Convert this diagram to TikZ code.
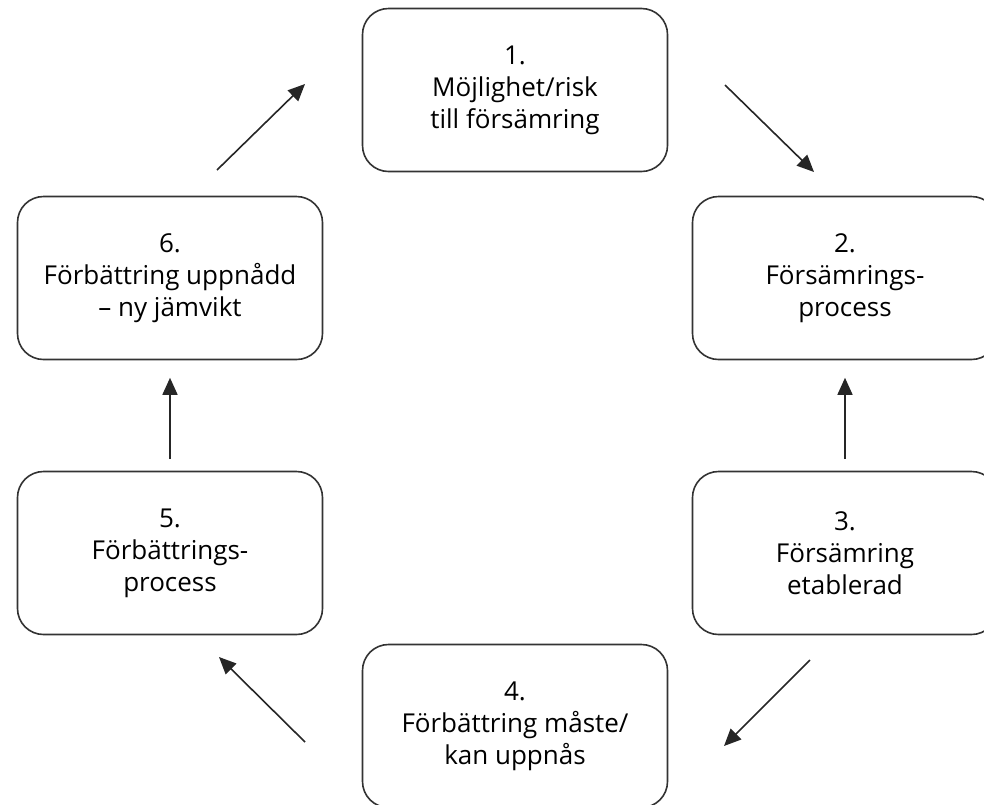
\documentclass[tikz,border=0pt]{standalone}
\usepackage{fontspec}
\setmainfont{Open Sans}
\usetikzlibrary{arrows.meta}
\begin{document}
\begin{tikzpicture}[x=1pt,y=-1pt,
  stage/.style={draw=black!80, line width=1.6pt, rounded corners=26pt,
    minimum width=305pt, minimum height=163pt, align=center,
    font=\fontsize{26}{32}\selectfont, text=black, inner sep=0pt},
  flow/.style={draw=black!85, line width=1.6pt,
    -{Triangle[length=17pt,width=15pt]}}]
\useasboundingbox (0,0) rectangle (984,804);
\clip (0,0) rectangle (984,804);
\node[stage] (n1) at (515,90) {1.\\Möjlighet/risk\\till försämring};
\node[stage] (n2) at (845,278) {2.\\Försämrings-\\process};
\node[stage] (n3) at (845,553) {3.\\Försämring\\etablerad};
\node[stage] (n4) at (515,726) {4.\\Förbättring måste/\\kan uppnås};
\node[stage] (n5) at (170,553) {5.\\Förbättrings-\\process};
\node[stage] (n6) at (170,278) {6.\\Förbättring uppnådd\\– ny jämvikt};
\coordinate (a61) at (217,170);
\coordinate (b61) at (305,84);
\coordinate (a12) at (725,85);
\coordinate (b12) at (814,172);
\coordinate (a34) at (810,660);
\coordinate (b34) at (724,746);
\coordinate (a45) at (305,742);
\coordinate (b45) at (219,657);
\draw[flow] (a61) -- (b61);
\draw[flow] (a12) -- (b12);
\draw[flow, shorten <=11.5pt, shorten >=17.5pt] (n3.north) -- (n2.south);
\draw[flow] (a34) -- (b34);
\draw[flow] (a45) -- (b45);
\draw[flow, shorten <=11.5pt, shorten >=17.5pt] (n5.north) -- (n6.south);
\end{tikzpicture}
\end{document}
